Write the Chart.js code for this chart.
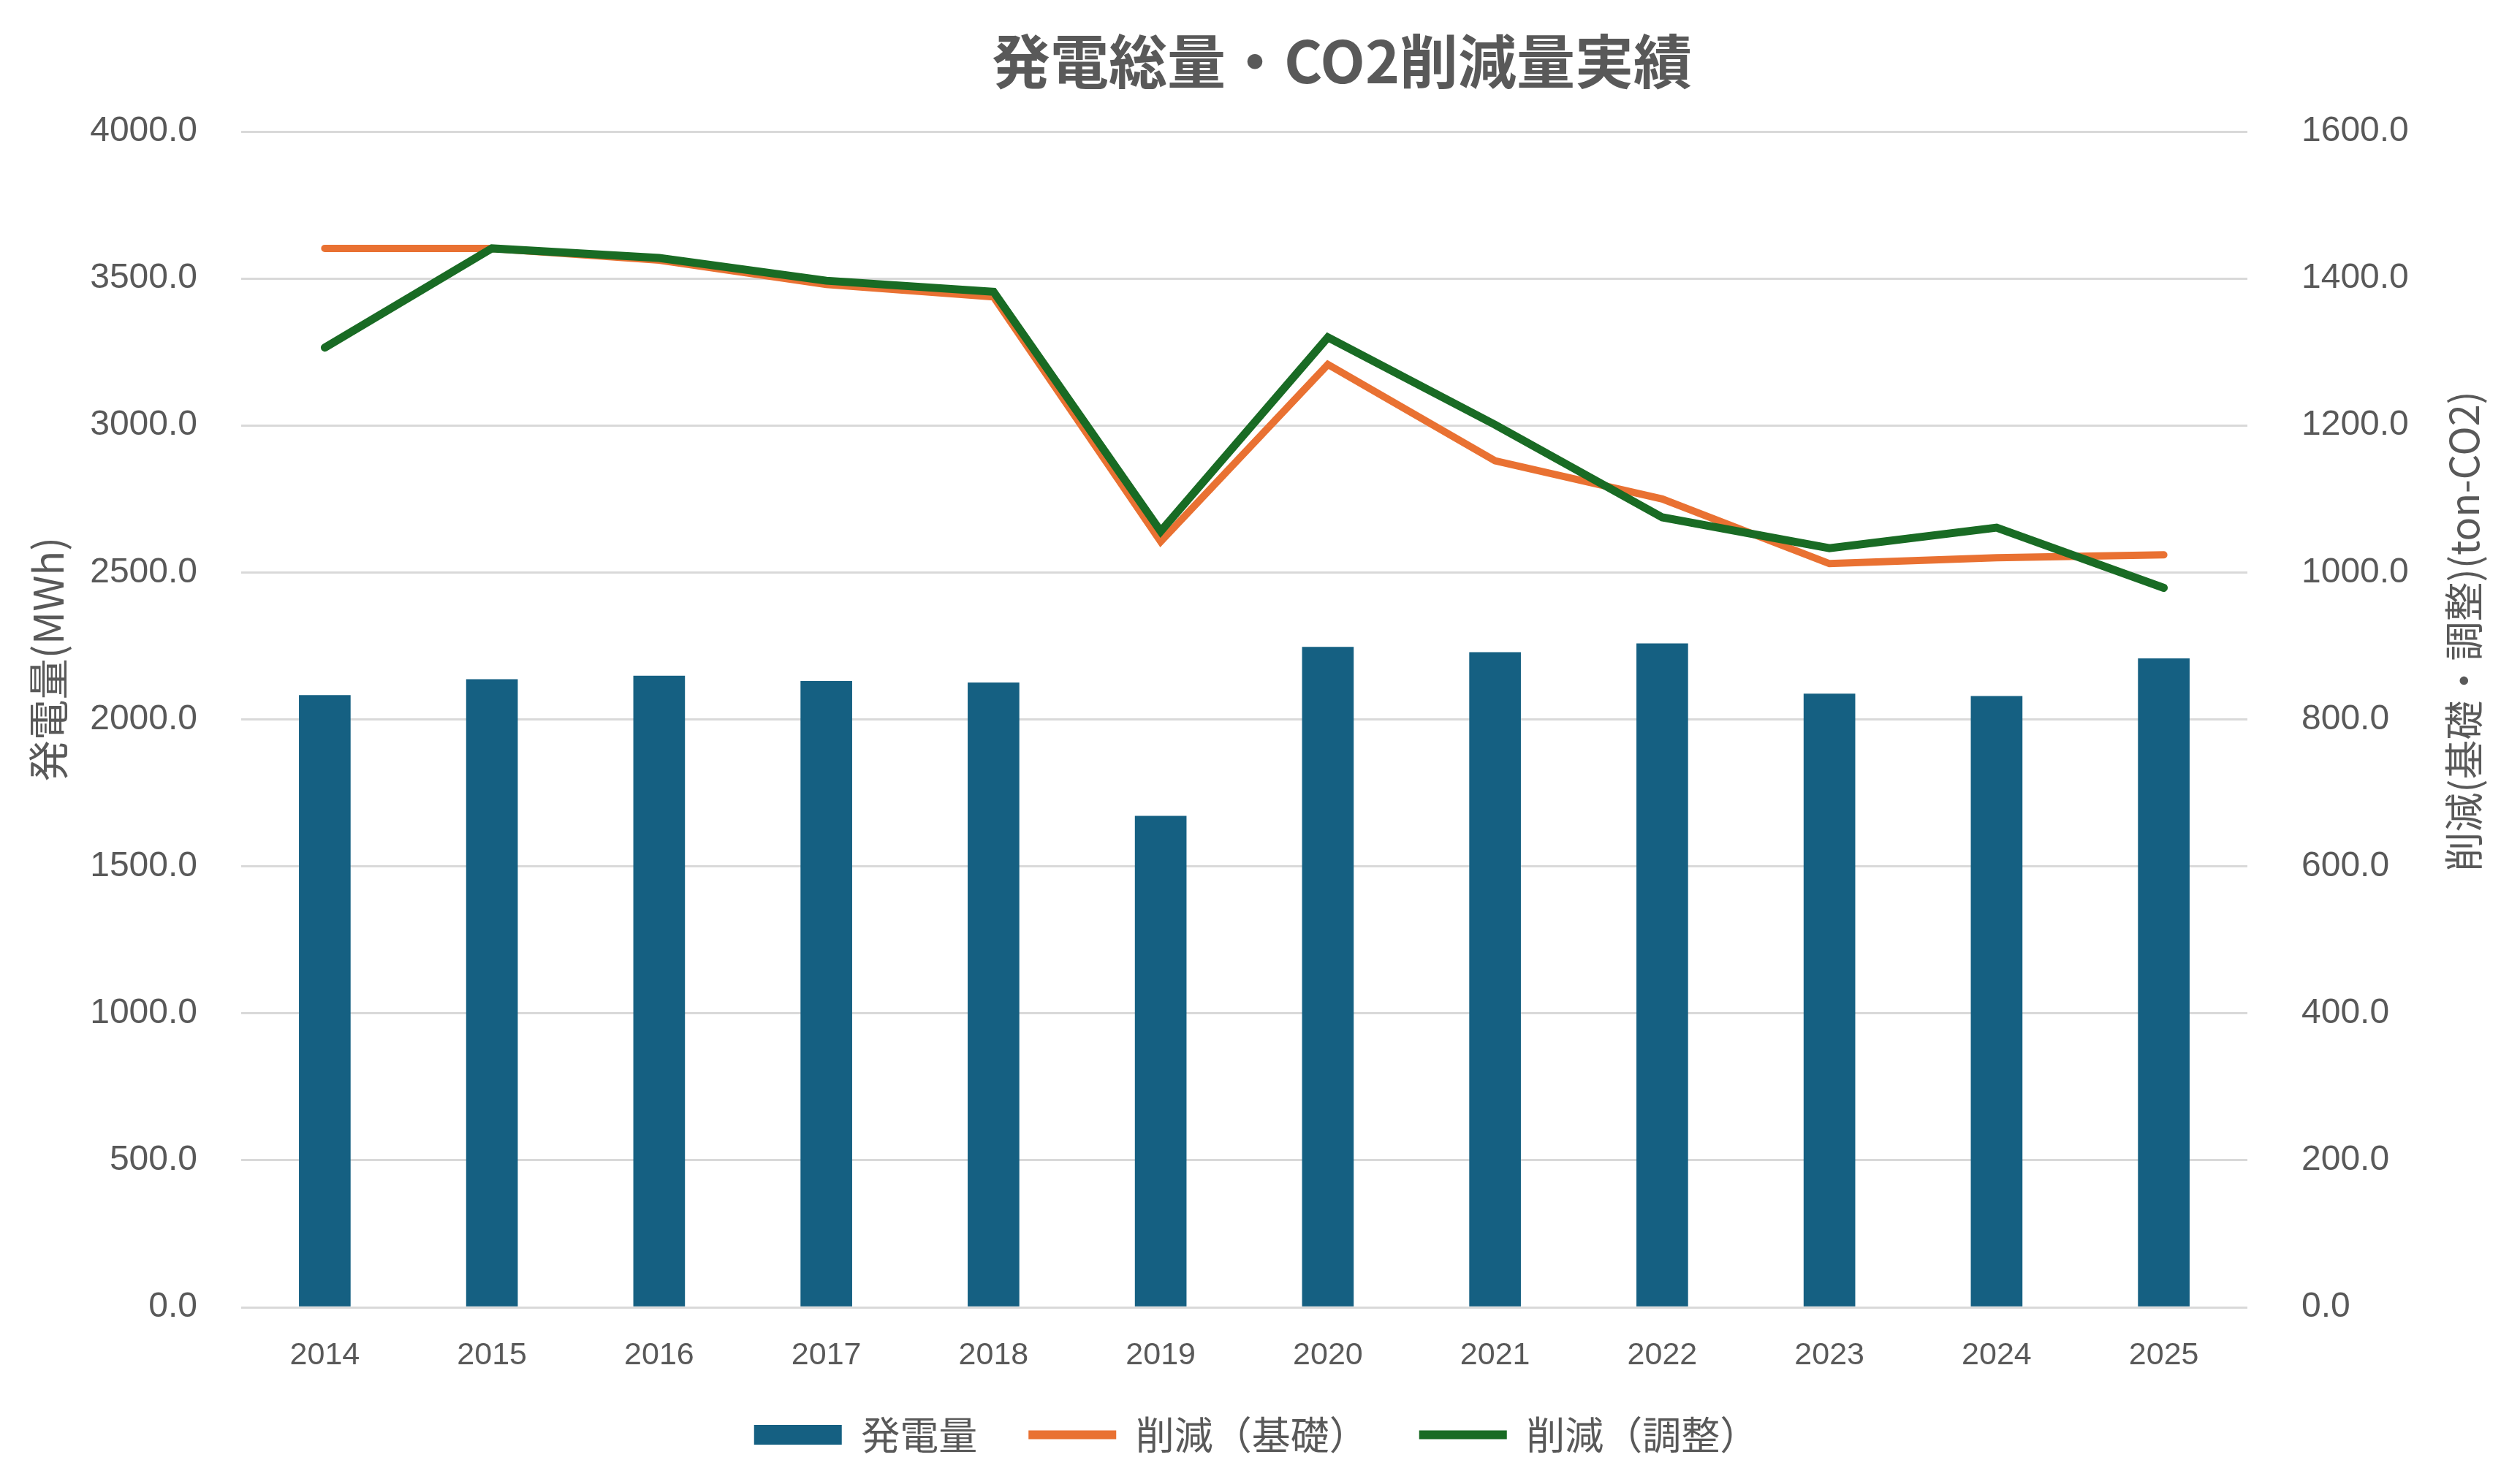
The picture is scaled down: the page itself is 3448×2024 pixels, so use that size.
<!DOCTYPE html>
<html lang="ja">
<head>
  <meta charset="UTF-8">
  <title>発電総量・CO2削減量実績</title>
  <style>
    html, body { margin: 0; padding: 0; background: #fff; }
    #wrap { width: 3448px; height: 2024px; }
  </style>
  <script src="https://cdn.jsdelivr.net/npm/chart.js"></script>
</head>
<body>
  <div id="wrap"><canvas id="chart" width="3448" height="2024"></canvas></div>
  <script>
    // data
    const years = ['2014','2015','2016','2017','2018','2019','2020','2021','2022','2023','2024','2025'];
    const generation = [2082, 2136, 2148, 2130, 2125, 1671, 2246, 2228, 2258, 2087, 2079, 2207];   // MWh
    const cutBase    = [1441, 1441, 1425, 1392, 1375, 1042, 1283, 1152, 1100, 1012, 1020, 1024];   // ton-CO2
    const cutAdjust  = [1306, 1441, 1428, 1397, 1382, 1056, 1320, 1201, 1075, 1033, 1061, 979];    // ton-CO2
    const leftTicks  = { min: 0, max: 4000, step: 500 };
    const rightTicks = { min: 0, max: 1600, step: 200 };

    const GREY = '#595959';
    const GRID = '#d9d9d9';
    const JP = "'Noto Sans CJK JP', 'Noto Sans', sans-serif";
    const LAT = "'Liberation Sans', Arial, sans-serif";

    // title + both axis titles drawn by hand (right one reads bottom-to-top)
    const textPlugin = {
      id: 'texts',
      afterLayout(chart) {
        // legend sits a little higher than chart.js would put it
        if (chart.legend) { chart.legend.top -= 22; chart.legend.bottom -= 22; }
      },
      afterDraw(chart) {
        const ctx = chart.ctx;
        ctx.save();
        ctx.fillStyle = GREY;
        ctx.textAlign = 'center';
        ctx.textBaseline = 'middle';
        ctx.font = `bold 80px ${JP}`;
        ctx.fillText('発電総量・CO2削減量実績', 1836, 84);

        ctx.font = `56px ${JP}`;
        ctx.save();
        ctx.translate(66, 902);
        ctx.rotate(-Math.PI / 2);
        ctx.fillText('発電量(MWh)', 0, 0);
        ctx.restore();

        ctx.font = `54px ${JP}`;
        ctx.save();
        ctx.translate(3371, 864);
        ctx.rotate(-Math.PI / 2);
        ctx.fillText('削減(基礎・調整)(ton-CO2)', 0, 0);
        ctx.restore();
        ctx.restore();
      }
    };

    new Chart(document.getElementById('chart'), {
      data: {
        labels: years,
        datasets: [
          {
            type: 'bar', label: '発電量', data: generation, yAxisID: 'y',
            backgroundColor: '#156082', borderWidth: 0, barThickness: 70,
            pointStyle: 'rect', order: 3
          },
          {
            type: 'line', label: '削減（基礎）', data: cutBase, yAxisID: 'y1',
            borderColor: '#e97132', backgroundColor: '#e97132', borderWidth: 10,
            borderCapStyle: 'round', pointRadius: 0, tension: 0,
            pointStyle: 'line', order: 2
          },
          {
            type: 'line', label: '削減（調整）', data: cutAdjust, yAxisID: 'y1',
            borderColor: '#196b24', backgroundColor: '#196b24', borderWidth: 11,
            borderCapStyle: 'round', pointRadius: 0, tension: 0,
            pointStyle: 'line', order: 1
          }
        ]
      },
      options: {
        responsive: false,
        animation: false,
        layout: { padding: { top: 180, left: 20, right: 30, bottom: 2 } },
        scales: {
          x: {
            afterFit: s => { s.height = 100; },
            grid: { display: false, drawTicks: false },
            border: { display: false },
            ticks: { color: GREY, font: { family: LAT, size: 43 }, padding: 40 }
          },
          y: {
            position: 'left',
            min: leftTicks.min, max: leftTicks.max,
            afterFit: s => { s.width = 310; },
            grid: { color: GRID, lineWidth: 3, drawTicks: false },
            border: { display: false },
            ticks: {
              stepSize: leftTicks.step, padding: 60, color: GREY,
              font: { family: LAT, size: 48 },
              callback: v => v.toFixed(1)
            }
          },
          y1: {
            position: 'right',
            min: rightTicks.min, max: rightTicks.max,
            afterFit: s => { s.width = 343; },
            grid: { drawOnChartArea: false, drawTicks: false },
            border: { display: false },
            ticks: {
              stepSize: rightTicks.step, padding: 74, color: GREY,
              font: { family: LAT, size: 48 },
              callback: v => v.toFixed(1)
            }
          }
        },
        plugins: {
          title: { display: false },
          tooltip: { enabled: false },
          legend: {
            position: 'bottom',
            labels: {
              color: GREY,
              font: { family: JP, size: 53 },
              usePointStyle: true,
              pointStyleWidth: 120,
              boxHeight: 27,
              padding: 70,
              sort: (a, b) => a.datasetIndex - b.datasetIndex,
              generateLabels(chart) {
                const items = Chart.defaults.plugins.legend.labels.generateLabels(chart);
                items.forEach(it => { it.lineWidth = it.datasetIndex === 0 ? 0 : 12; });
                return items;
              }
            }
          }
        }
      },
      plugins: [textPlugin]
    });
  </script>
</body>
</html>
